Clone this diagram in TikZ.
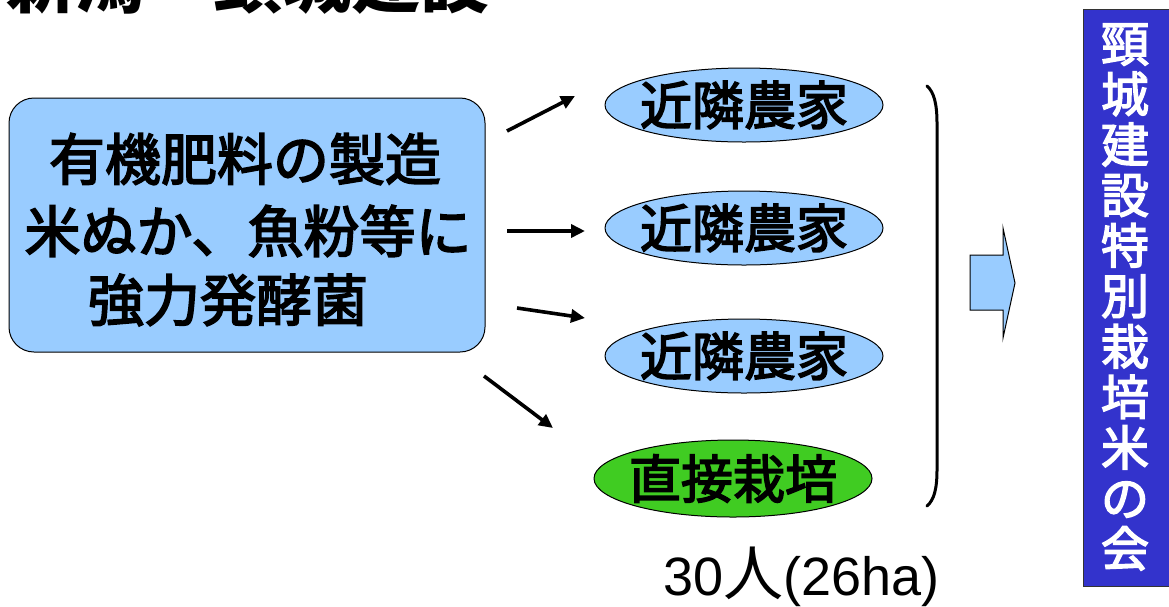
\documentclass[tikz,border=0pt]{standalone}
\usepackage{fontspec}
\setmainfont{Liberation Sans}
\newfontfamily\jp{Noto Sans CJK JP}
\newfontfamily\jpm[FakeBold=3]{Noto Sans CJK JP}
\usetikzlibrary{arrows.meta,shapes.geometric}
\definecolor{lblue}{HTML}{99CCFF}
\definecolor{lgreen}{HTML}{40CC22}
\definecolor{dblue}{HTML}{3333CC}
\tikzset{
  farm/.style={ellipse, draw=black, line width=1pt, fill=lblue, minimum width=278pt, minimum height=74pt, inner sep=0pt},
  direct/.style={farm, fill=lgreen, minimum height=77pt},
  farmtext/.style={inner sep=0pt, font=\jpm\fontsize{52}{52}\selectfont},
  arr/.style={line width=3.6pt, -{Triangle[length=14pt,width=13pt]}},
  boxline/.style={font=\jpm\fontsize{56}{56}\selectfont, inner sep=0pt, anchor=center},
}
\begin{document}
\begin{tikzpicture}[x=1pt,y=-1pt]
\useasboundingbox (0,0) rectangle (1169,606);
\begin{scope}
\clip (0,0) rectangle (1169,606);
\node[anchor=base west, inner sep=0pt, font=\jp\bfseries\fontsize{69}{69}\selectfont] (title) at (6,7) {新潟　頸城建設};
\end{scope}
% main box
\node[draw=black, line width=1pt, fill=lblue, rounded corners=25pt, minimum width=476pt, minimum height=254pt, inner sep=0pt] (src) at (247,225) {};
\node[boxline] (l1) at (245,159) {有機肥料の製造};
\node[boxline] (l2) at (248,231) {米ぬか、魚粉等に};
\node[boxline] (l3) at (228,300) {強力発酵菌};
% ellipses
\node[farm] (f1) at (744,105) {};
\node[farm] (f2) at (744,228) {};
\node[farm] (f3) at (744,356) {};
\node[direct] (f4) at (733,478.5) {};
\node[farmtext] (t1) at (f1) {近隣農家};
\node[farmtext] (t2) at (f2) {近隣農家};
\node[farmtext] (t3) at (f3) {近隣農家};
\node[farmtext] (t4) at (f4) {直接栽培};
% arrows
\coordinate (a1s) at (507,131); \coordinate (a1e) at (575,96);
\coordinate (a2s) at (507,231); \coordinate (a2e) at (585,231);
\coordinate (a3s) at (517,308); \coordinate (a3e) at (585,318);
\coordinate (a4s) at (484,376); \coordinate (a4e) at (553,428);
\draw[arr] (a1s) -- (a1e);
\draw[arr] (a2s) -- (a2e);
\draw[arr] (a3s) -- (a3e);
\draw[arr] (a4s) -- (a4e);
% bracket
\coordinate (bt) at (927,86);
\coordinate (bb) at (927,506);
\draw[line width=3pt, line cap=round] (bt) .. controls (934,92) and (937,104) .. (937,123) -- (937,470) .. controls (937,489) and (934,500) .. (bb);
% block arrow
\draw[line width=1pt, fill=lblue] (970,255) -- (1003,255) -- (1003,228) -- (1015,283) -- (1003,338) -- (1003,310) -- (970,310) -- cycle;
% right box
\node[draw=black!80, line width=1pt, fill=dblue, minimum width=90pt, minimum height=577pt, inner sep=0pt, anchor=north west] (club) at (1083,9) {};
\node[text=white, inner sep=0pt, align=center, font=\jpm\fontsize{48}{50.5}\selectfont] (clubtxt) at (1125,297) {頸\\城\\建\\設\\特\\別\\栽\\培\\米\\の\\会};
% count
\node[anchor=base west, inner sep=0pt, font=\fontsize{54}{54}\selectfont] (count) at (663,595) {30{\jp\fontsize{60}{60}\selectfont 人}(26ha)};
\end{tikzpicture}
\end{document}
